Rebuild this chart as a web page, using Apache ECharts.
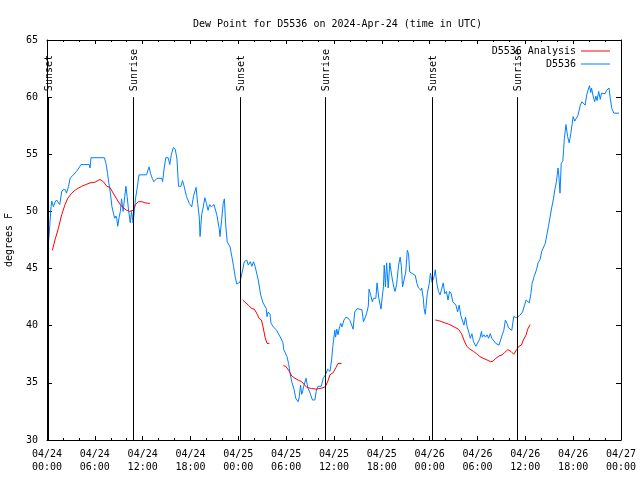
<!DOCTYPE html>
<html><head><meta charset="utf-8">
<script src="https://cdn.jsdelivr.net/npm/echarts@6/dist/echarts.min.js"></script>
<style>html,body{margin:0;padding:0;background:#fff}#c{width:640px;height:480px}</style>
</head><body><div id="c"></div>
<script>
// hours since 2024-04-24 00:00 UTC, dew point in degrees F
const xTickLabels = ['04/24\n00:00','04/24\n06:00','04/24\n12:00','04/24\n18:00','04/25\n00:00','04/25\n06:00','04/25\n12:00','04/25\n18:00','04/26\n00:00','04/26\n06:00','04/26\n12:00','04/26\n18:00','04/27\n00:00'];
const sunHours = [0.17, 10.83, 24.2, 34.9, 48.3, 58.9];
const sunLabels = ['Sunset','Sunrise','Sunset','Sunrise','Sunset','Sunrise'];

const stationObs = [[0.17,47.2],[0.25,47.8],[0.35,48.8],[0.5,50.4],[0.6,50.9],[0.8,50.4],[1.0,50.8],[1.2,51.0],[1.6,50.6],[1.84,51.7],[2.0,51.9],[2.3,51.9],[2.45,51.6],[2.7,52.2],[2.9,52.9],[3.1,53.0],[3.3,53.2],[3.7,53.5],[3.9,53.7],[4.27,54.1],[5.3,54.1],[5.4,53.8],[5.52,54.7],[7.2,54.7],[7.4,54.2],[7.6,53.3],[7.75,52.5],[7.95,51.6],[8.15,50.4],[8.35,49.8],[8.5,49.4],[8.65,49.6],[8.75,49.4],[8.87,48.7],[9.05,49.5],[9.2,50.0],[9.35,51.1],[9.55,50.0],[9.75,51.3],[9.9,52.2],[10.05,51.3],[10.25,50.0],[10.45,49.0],[10.6,50.0],[10.8,49.0],[10.95,50.0],[11.1,51.1],[11.3,52.0],[11.54,53.2],[12.5,53.2],[12.65,53.6],[12.8,53.9],[13.0,53.3],[13.2,52.9],[13.4,52.6],[13.8,52.9],[14.4,52.9],[14.5,52.6],[14.7,53.8],[14.9,54.7],[15.2,54.7],[15.4,54.1],[15.6,55.0],[15.85,55.6],[16.1,55.4],[16.3,54.6],[16.5,52.2],[16.8,52.2],[17.0,52.7],[17.2,52.2],[17.5,51.3],[17.85,50.7],[18.15,50.4],[18.4,51.4],[18.7,52.1],[18.9,50.7],[19.1,49.5],[19.2,47.8],[19.4,49.7],[19.6,50.4],[19.8,51.2],[20.0,50.7],[20.2,50.1],[20.4,50.6],[20.6,50.4],[20.95,50.6],[21.3,49.7],[21.6,48.5],[21.7,47.8],[21.9,49.2],[22.1,50.7],[22.25,51.1],[22.4,49.0],[22.6,47.35],[22.96,46.9],[23.2,46.0],[23.4,45.2],[23.6,44.3],[23.8,43.65],[24.2,43.8],[24.55,44.9],[24.75,45.6],[25.05,45.75],[25.25,45.3],[25.5,45.6],[25.7,45.2],[25.9,45.6],[26.1,45.2],[26.3,44.6],[26.5,44.0],[26.8,42.7],[27.1,42.0],[27.5,41.5],[27.6,40.8],[27.75,41.2],[27.97,41.0],[28.1,40.2],[28.4,39.9],[28.8,39.6],[29.1,39.2],[29.35,38.9],[29.6,38.5],[29.7,37.9],[30.1,37.3],[30.3,36.7],[30.5,35.8],[30.7,35.1],[31.0,34.4],[31.2,33.65],[31.5,33.35],[31.65,33.8],[31.8,34.8],[31.95,34.0],[32.05,34.2],[32.2,34.7],[32.5,35.4],[32.7,34.6],[33.0,34.1],[33.3,33.5],[33.6,33.5],[33.8,34.4],[34.0,34.7],[34.4,34.7],[34.65,35.4],[35.0,35.8],[35.2,36.2],[35.5,36.0],[35.7,37.0],[35.85,38.2],[36.0,38.3],[36.1,39.6],[36.2,39.0],[36.35,39.7],[36.5,39.2],[36.7,39.9],[36.85,40.2],[37.0,39.9],[37.25,40.5],[37.5,40.75],[37.8,40.65],[38.0,40.45],[38.2,40.35],[38.4,39.7],[38.6,41.2],[38.9,41.5],[39.5,41.4],[39.7,40.35],[39.9,40.7],[40.1,41.1],[40.3,41.7],[40.4,43.2],[40.6,42.7],[40.8,42.1],[40.95,42.4],[41.25,42.4],[41.4,43.75],[41.6,42.5],[41.8,41.8],[41.9,41.45],[42.05,42.5],[42.2,43.4],[42.3,45.3],[42.45,43.4],[42.6,45.5],[42.8,43.3],[43.0,45.5],[43.2,45.6],[43.35,43.9],[43.5,43.4],[43.65,43.0],[43.85,43.6],[44.1,45.3],[44.3,46.0],[44.45,45.2],[44.6,43.4],[44.8,43.3],[45.0,44.7],[45.2,46.6],[45.35,46.3],[45.5,44.7],[45.7,44.55],[46.2,44.4],[46.4,43.7],[46.6,43.3],[46.9,43.1],[47.0,43.3],[47.2,42.4],[47.3,41.5],[47.45,41.0],[47.7,42.8],[47.95,43.7],[48.1,44.6],[48.3,43.8],[48.45,43.7],[48.55,44.3],[48.7,44.9],[48.9,43.7],[49.1,43.0],[49.3,42.7],[49.5,43.2],[49.7,43.75],[49.9,42.8],[50.1,43.0],[50.3,42.25],[50.5,43.0],[50.7,42.8],[50.9,42.1],[51.1,42.0],[51.3,41.8],[51.5,41.2],[51.7,41.8],[51.9,40.9],[52.1,40.75],[52.3,40.05],[52.5,40.75],[52.7,39.9],[52.9,39.45],[53.1,38.9],[53.3,39.3],[53.5,38.6],[53.8,38.2],[54.1,38.6],[54.3,38.9],[54.5,39.5],[54.6,39.0],[54.8,39.2],[55.0,39.0],[55.2,39.2],[55.4,38.9],[55.6,39.3],[55.8,38.9],[56.0,38.75],[56.3,38.45],[56.5,38.3],[56.7,38.3],[56.9,38.75],[57.1,39.2],[57.3,39.6],[57.5,40.5],[57.7,40.2],[57.9,39.8],[58.3,39.6],[58.55,40.8],[58.9,40.7],[59.1,40.6],[59.3,40.9],[59.65,41.2],[59.9,41.8],[60.1,42.25],[60.3,42.1],[60.5,42.0],[60.7,42.8],[60.85,43.7],[61.1,44.3],[61.4,44.9],[61.6,45.5],[61.85,45.8],[62.05,46.5],[62.3,46.6],[62.5,47.2],[62.7,47.95],[62.9,48.7],[63.1,49.5],[63.3,50.3],[63.5,51.0],[63.7,51.9],[63.9,52.6],[64.1,53.8],[64.2,53.2],[64.35,51.6],[64.5,54.2],[64.7,54.4],[64.8,55.4],[64.9,56.4],[65.1,57.6],[65.2,57.7],[65.3,56.55],[65.5,56.0],[65.7,56.8],[65.85,56.7],[66.0,58.3],[66.2,57.9],[66.4,58.15],[66.6,58.4],[66.9,59.3],[67.1,59.6],[67.3,59.7],[67.5,59.3],[67.7,60.2],[67.9,60.7],[68.05,61.0],[68.2,60.4],[68.3,60.8],[68.5,60.1],[68.7,59.6],[68.85,60.1],[69.0,59.7],[69.2,60.5],[69.4,59.8],[69.55,60.35],[69.7,60.3],[70.0,60.3],[70.2,60.6],[70.5,60.8],[70.65,59.9],[70.85,59.0],[71.1,58.6],[71.75,58.6]];

const analysisSeg1 = [[0.67,46.6],[1.0,47.5],[1.42,48.5],[1.84,49.7],[2.26,50.6],[2.6,51.15],[3.1,51.6],[3.6,51.9],[4.35,52.2],[5.4,52.5],[6.0,52.55],[6.65,52.8],[7.07,52.6],[7.5,52.2],[7.9,52.1],[8.3,51.6],[8.74,51.1],[9.16,50.6],[9.6,50.3],[10.0,50.1],[10.4,50.0],[10.8,50.1],[11.1,50.6],[11.45,50.85],[11.9,50.85],[12.3,50.75],[12.9,50.7]];
const analysisSeg2 = [[24.55,42.25],[24.8,42.2],[25.25,41.8],[25.7,41.5],[26.0,41.45],[26.3,41.1],[26.6,40.65],[26.9,40.5],[27.1,39.9],[27.35,39.0],[27.6,38.45],[27.9,38.45]];
const analysisSeg3 = [[29.65,36.5],[29.95,36.45],[30.4,36.0],[30.7,35.6],[31.1,35.4],[31.5,35.25],[31.95,35.1],[32.2,34.9],[32.6,34.6],[33.2,34.5],[33.8,34.45],[34.5,34.55],[34.9,34.65],[35.2,35.1],[35.5,35.7],[35.9,35.9],[36.25,36.35],[36.5,36.7],[36.95,36.7]];
const analysisSeg4 = [[48.7,40.5],[49.1,40.45],[49.5,40.35],[49.9,40.25],[50.35,40.15],[50.8,40.0],[51.2,39.85],[51.6,39.7],[52.0,39.3],[52.3,38.75],[52.65,38.2],[53.05,37.95],[53.5,37.75],[53.9,37.55],[54.3,37.3],[54.7,37.15],[55.2,37.0],[55.65,36.85],[55.95,36.9],[56.3,37.15],[56.7,37.35],[57.1,37.45],[57.4,37.65],[57.8,37.9],[58.2,37.75],[58.55,37.5],[58.9,37.9],[59.2,38.2],[59.5,38.3],[59.75,38.75],[60.1,39.2],[60.3,39.7],[60.6,40.1]];

const FONT = 'DejaVu Sans Mono';
const analysisData = analysisSeg1.concat([[18, null]], analysisSeg2, [[28.8, null]], analysisSeg3, [[42, null]], analysisSeg4);
const sunData = sunHours.map((h, i) => [h, sunLabels[i]]);

const chart = echarts.init(document.getElementById('c'), null, {renderer: 'canvas'});
const xCommon = {
  type: 'value', min: 0, max: 72, interval: 6,
  axisLine: {show: true, onZero: false, lineStyle: {color: '#000', width: 1}},
  axisTick: {show: true, inside: true, length: 4, lineStyle: {color: '#000'}},
  minorTick: {show: true, splitNumber: 3, length: 2, lineStyle: {color: '#000'}},
  splitLine: {show: false}, minorSplitLine: {show: false}
};
const yCommon = {
  type: 'value', min: 30, max: 65, interval: 5,
  axisLine: {show: true, onZero: false, lineStyle: {color: '#000', width: 1}},
  axisTick: {show: true, inside: true, length: 5, lineStyle: {color: '#000'}},
  splitLine: {show: false}
};
chart.setOption({
  animation: false,
  backgroundColor: '#fff',
  textStyle: {fontFamily: FONT},
  title: {
    text: 'Dew Point for D5536 on 2024-Apr-24 (time in UTC)',
    left: 188, top: 14,
    textStyle: {fontFamily: FONT, fontSize: 10, fontWeight: 'normal', color: '#000'}
  },
  legend: {
    data: ['D5536 Analysis', 'D5536'],
    orient: 'vertical', right: 25, top: 41, align: 'right',
    icon: 'rect', itemWidth: 29, itemHeight: 1, itemGap: 3,
    textStyle: {fontFamily: FONT, fontSize: 10, color: '#000'}
  },
  grid: {left: 47, right: 19, top: 40, bottom: 40, containLabel: false, outerBoundsMode: 'none'},
  xAxis: [
    Object.assign({}, xCommon, {
      position: 'bottom',
      axisLabel: {show: true, fontFamily: FONT, fontSize: 10, color: '#000', lineHeight: 13, margin: 8,
        formatter: v => xTickLabels[Math.round(v / 6)] || ''}
    }),
    Object.assign({}, xCommon, {position: 'top', axisLabel: {show: false}})
  ],
  yAxis: [
    Object.assign({}, yCommon, {
      position: 'left',
      name: 'degrees F', nameLocation: 'middle', nameGap: 33, nameRotate: 90,
      nameTextStyle: {fontFamily: FONT, fontSize: 10, color: '#000'},
      axisLabel: {show: true, fontFamily: FONT, fontSize: 10, color: '#000', margin: 9}
    }),
    Object.assign({}, yCommon, {position: 'right', axisLabel: {show: false}})
  ],
  series: [
    {
      name: 'D5536', type: 'line', data: stationObs, symbol: 'none', showSymbol: false,
      color: '#0080ff', lineStyle: {width: 1, color: '#0080ff'}, z: 3
    },
    {
      name: 'D5536 Analysis', type: 'line', data: analysisData, symbol: 'none', showSymbol: false,
      connectNulls: false, color: '#ff0000', lineStyle: {width: 1, color: '#ff0000'}, z: 4
    },
    {
      name: 'sun', type: 'custom', data: sunData, z: 5, silent: true,
      renderItem: function (params, api) {
        const h = api.value(0);
        const top = api.coord([h, 60]);
        const bot = api.coord([h, 30]);
        return {
          type: 'group',
          children: [
            {type: 'line', shape: {x1: Math.round(top[0]) + 0.5, y1: top[1], x2: Math.round(bot[0]) + 0.5, y2: bot[1]},
              style: {stroke: '#000', lineWidth: 1}},
            {type: 'text', x: Math.round(top[0]) + 1, y: top[1] - 6, rotation: Math.PI / 2,
              style: {text: sunLabels[params.dataIndex], x: 0, y: 0, align: 'left', verticalAlign: 'middle',
                font: '10px "DejaVu Sans Mono"', fill: '#000'}}
          ]
        };
      }
    }
  ]
});
</script>
</body></html>
